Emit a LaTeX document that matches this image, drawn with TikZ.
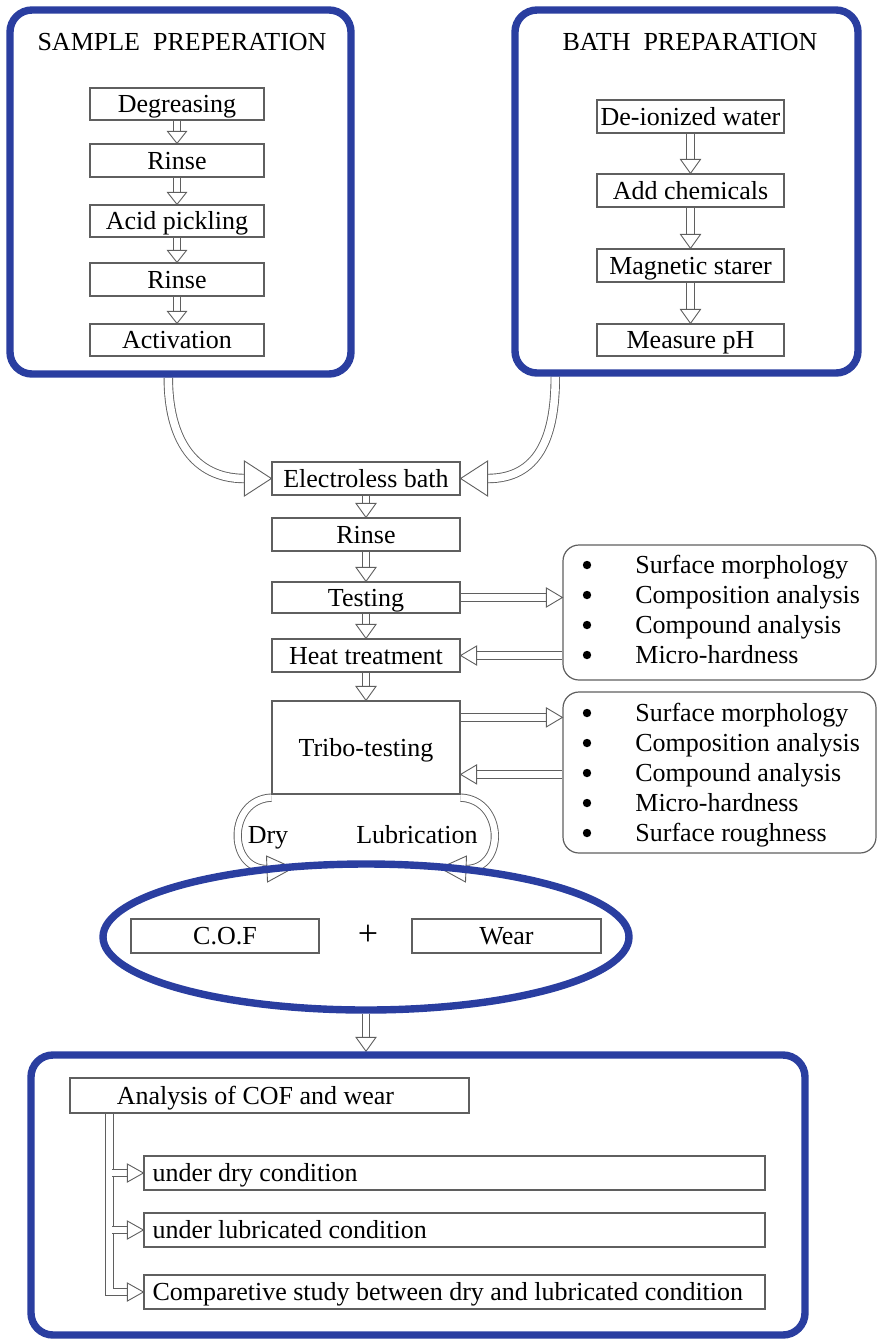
\documentclass[tikz,border=0pt]{standalone}
\usepackage{fontspec}
\setmainfont{Liberation Serif}
\usetikzlibrary{calc,fit,shapes.geometric}
\definecolor{bblue}{RGB}{42,62,160}
\definecolor{lc}{RGB}{95,95,95}
\pgfdeclarelayer{bg}
\pgfsetlayers{bg,main}
\tikzset{
 box/.style={draw=lc, line width=0.6pt, inner sep=0pt, font=\fontsize{13}{15}\selectfont, text height=9.5pt, text depth=1pt},
 bluebox/.style={draw=bblue, line width=3.7pt, rounded corners=11pt, inner sep=0pt},
 rbox/.style={draw=lc, line width=0.6pt, rounded corners=8pt, inner sep=0pt},
 txt/.style={inner sep=0pt, font=\fontsize{13}{15}\selectfont, text height=9.5pt, text depth=1pt},
 shaft/.style={draw=lc, line width=0.45pt, double=white, double distance=3.2pt},
 bigshaft/.style={shaft, double distance=3.8pt},
 headst/.style={draw=lc, line width=0.45pt, fill=white, line join=miter},
 dot/.style={circle, fill=black, inner sep=0pt, minimum size=4.2pt},
}
% text box given by its corners in pixels: name, x1, y1, x2, y2, text
\newcommand\tbox[6]{\node[box, minimum width={(#4-#2)*0.5pt}, minimum height={(#5-#3)*0.5pt}] (#1) at ({(#2+#4)/2},{(#3+#5)/2}) {#6};}
\newcommand\ahead[3]{\draw[headst] ($(#1)!#3!90:(#2)$) -- (#2) -- ($(#1)!#3!-90:(#2)$) -- cycle;}
\newcommand\harrow[4]{%
  \path ($(#2)!#3!(#1)$) coordinate (hb);
  \draw[shaft] (#1) -- (hb);
  \ahead{hb}{#2}{#4}}
\begin{document}
\begin{tikzpicture}[x=0.5pt,y=-0.5pt]
\useasboundingbox (0,0) rectangle (880,1340);
% blue frames
\node[bluebox, fit={(10,10)(351,374)}] (sp) {};
\node[bluebox, fit={(515,10)(858,373)}] (bp) {};
\node[txt] (spt) at (182,42) {SAMPLE\ \ PREPERATION};
\node[txt] (bpt) at (690,42) {BATH\ \ PREPARATION};
% sample steps
\tbox{s1}{90}{88}{264}{120}{Degreasing}
\tbox{s2}{90}{144}{264}{177}{Rinse}
\tbox{s3}{90}{205}{264}{237}{Acid pickling}
\tbox{s4}{90}{263}{264}{296}{Rinse}
\tbox{s5}{90}{324}{264}{356}{Activation}
% bath steps
\tbox{b1}{597}{100}{784}{133}{De-ionized water}
\tbox{b2}{597}{174}{784}{207}{Add chemicals}
\tbox{b3}{597}{249}{784}{282}{Magnetic starer}
\tbox{b4}{597}{324}{784}{356}{Measure pH}
% middle column
\tbox{m1}{272}{462}{460}{495}{Electroless bath}
\tbox{m2}{272}{518}{460}{551}{Rinse}
\tbox{m3}{272}{582}{460}{613}{Testing}
\tbox{m4}{272}{639}{460}{672}{Heat treatment}
\tbox{m5}{272}{701}{460}{794}{Tribo-testing}
% bullet boxes
\node[rbox, fit={(563,545)(876,680)}] (r1) {};
\node[rbox, fit={(563,692)(876,853)}] (r2) {};
\foreach \t [count=\i] in {Surface morphology, Composition analysis, Compound analysis, Micro-hardness}{
  \node[dot] (r1d\i) at (587,535+30*\i) {};
  \node[txt, anchor=west] (r1t\i) at (635,535+30*\i) {\t};
}
\foreach \t [count=\i] in {Surface morphology, Composition analysis, Compound analysis, Micro-hardness, Surface roughness}{
  \node[dot] (r2d\i) at (587,683+30*\i) {};
  \node[txt, anchor=west] (r2t\i) at (635,683+30*\i) {\t};
}
\node[txt] (dry) at (268,835) {Dry};
\node[txt] (lub) at (417,835) {Lubrication};
% ellipse
\node[draw=bblue, line width=3.7pt, ellipse, minimum width=263pt, minimum height=73pt, inner sep=0pt] (el) at (366,937) {};
\tbox{cof}{131}{919}{319}{953}{C.O.F}
\tbox{wear}{412}{919}{601}{953}{Wear}
\node[txt, font=\fontsize{18}{20}\selectfont] (plus) at (368,937) {+};
% bottom frame
\node[bluebox, fit={(31,1055)(805,1335)}] (bb) {};
\tbox{an}{70}{1078}{469}{1113}{Analysis of COF and wear\hspace*{14pt}}
\tbox{c1}{144}{1156}{765}{1190}{\makebox[302pt][l]{under dry condition}}
\tbox{c2}{144}{1213}{765}{1247}{\makebox[302pt][l]{under lubricated condition}}
\tbox{c3}{144}{1275}{765}{1309}{\makebox[302pt][l]{Comparetive study between dry and lubricated condition}}
% connectors
\begin{pgfonlayer}{bg}
\harrow{s1.south}{s2.north}{6pt}{4.75pt}
\harrow{s2.south}{s3.north}{6pt}{4.75pt}
\harrow{s3.south}{s4.north}{6pt}{4.75pt}
\harrow{s4.south}{s5.north}{6pt}{4.75pt}
\harrow{b1.south}{b2.north}{7pt}{5pt}
\harrow{b2.south}{b3.north}{7pt}{5pt}
\harrow{b3.south}{b4.north}{7pt}{5pt}
\harrow{m1.south}{m2.north}{7pt}{5pt}
\harrow{m2.south}{m3.north}{7pt}{5pt}
\harrow{m3.south}{m4.north}{7pt}{5pt}
\harrow{m4.south}{m5.north}{7pt}{5pt}
\coordinate (t1) at (m3.east -| r1.west);
\harrow{m3.east}{t1}{8pt}{4.75pt}
\coordinate (t2) at (m4.east -| r1.west);
\harrow{t2}{m4.east}{8pt}{4.75pt}
\coordinate (t3a) at ($(m5.north east)+(0,17)$);
\coordinate (t3b) at (t3a -| r2.west);
\harrow{t3a}{t3b}{8pt}{4.75pt}
\coordinate (t4a) at ($(m5.north east)+(0,74)$);
\coordinate (t4b) at (t4a -| r2.west);
\harrow{t4b}{t4a}{8pt}{4.75pt}
% upper curves
\coordinate (u1) at ($(sp.south west)+(162,0)$);
\coordinate (u1b) at ($(m1.west)+(-27,0)$);
\draw[bigshaft] (u1) .. controls ($(u1)+(0,62)$) and ($(u1b)+(-50,0)$) .. (u1b);
\ahead{u1b}{m1.west}{8.75pt}
\coordinate (u2) at ($(bp.south west)+(44,0)$);
\coordinate (u2b) at ($(m1.east)+(27,0)$);
\draw[bigshaft] (u2) .. controls ($(u2)+(0,62)$) and ($(u2b)+(50,0)$) .. (u2b);
\ahead{u2b}{m1.east}{8.75pt}
% lower curves
\coordinate (l1) at ($(m5.south west)+(0,3)$);
\coordinate (l1t) at (293,868);
\coordinate (l1b) at ($(l1t)+(-26,1)$);
\draw[shaft] (l1) .. controls ($(l1)+(-44,2)$) and ($(l1b)+(-40,0)$) .. (l1b);
\ahead{l1b}{l1t}{6.5pt}
\coordinate (l2) at ($(m5.south east)+(0,3)$);
\coordinate (l2t) at (440,868);
\coordinate (l2b) at ($(l2t)+(26,1)$);
\draw[shaft] (l2) .. controls ($(l2)+(44,2)$) and ($(l2b)+(40,0)$) .. (l2b);
\ahead{l2b}{l2t}{6.5pt}
% ellipse to bottom
\coordinate (e2) at (el.south |- bb.north);
\harrow{el.south}{e2}{7pt}{5pt}
% branches
\coordinate (v0) at ($(an.south west)+(40,0)$);
\coordinate (v3) at ($(c3.west)+(-16,0)$);
\draw[shaft] (v0) |- (v3);
\ahead{v3}{c3.west}{4.5pt}
\coordinate (v1) at ($(c1.west)+(-31,0)$);
\harrow{v1}{c1.west}{8pt}{4.5pt}
\coordinate (v2) at ($(c2.west)+(-31,0)$);
\harrow{v2}{c2.west}{8pt}{4.5pt}
\end{pgfonlayer}
\end{tikzpicture}
\end{document}
